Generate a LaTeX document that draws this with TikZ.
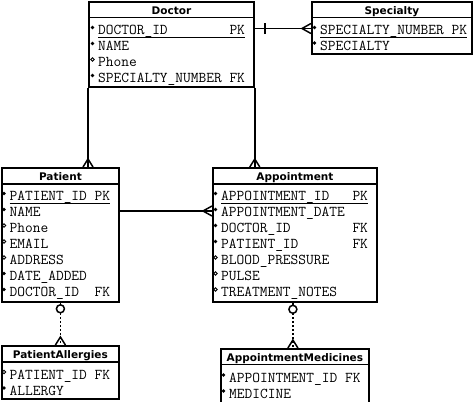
\documentclass[tikz,border=0pt]{standalone}
\usepackage{fontspec}
\newfontfamily\titlefont{DejaVu Sans}
\tikzset{
  entity/.style={draw, line width=1.8pt, rectangle, inner sep=0pt, anchor=north west},
  etitle/.style={anchor=base, inner sep=0pt, font=\titlefont\bfseries\fontsize{10.5}{12}\selectfont},
  attr/.style={anchor=base west, inner sep=0pt, font=\ttfamily\fontsize{15}{15}\selectfont},
  conn/.style={line width=1.8pt},
  dotconn/.style={line width=1.8pt, dash pattern=on 1.8pt off 2.2pt},
  foot/.style={line width=1.5pt},
  uline/.style={line width=0.9pt},
}
\newcommand\erow[5]{%
  \node[attr] (#1) at (#2,#3) {#5};
  \ifx m#4\fill (#2-5.5,#3-7) circle (1.8);\else\draw[line width=0.8pt] (#2-5.5,#3-7) circle (1.8);\fi}
\newcommand\underrow[1]{\draw[uline] ([yshift=-2.5pt]#1.base west) -- ([yshift=-2.5pt]#1.base east);}
\newcommand\sepline[2]{\draw[line width=1.8pt] ([yshift=-#2pt]#1.north west) -- ([yshift=-#2pt]#1.north east);}
\begin{document}
\begin{tikzpicture}[x=1pt,y=-1pt]
\useasboundingbox (0,0) rectangle (475,402);
% Doctor
\node[entity, minimum width=165pt, minimum height=85pt] (doctor) at (88,1) {};
\sepline{doctor}{16.5}
\node[etitle] (doctorT) at ([yshift=-13pt]doctor.north) {Doctor};
\erow{d1}{98}{34.5}{m}{DOCTOR\_ID~~~~~~~~PK}
\underrow{d1}
\erow{d2}{98}{50.5}{m}{NAME}
\erow{d3}{98}{66.5}{o}{Phone}
\erow{d4}{98}{82.5}{m}{SPECIALTY\_NUMBER FK}
% Specialty
\node[entity, minimum width=160pt, minimum height=52pt] (specialty) at (311,1) {};
\sepline{specialty}{16.5}
\node[etitle] (specialtyT) at ([yshift=-13pt]specialty.north) {Specialty};
\erow{s1}{320}{34.5}{m}{SPECIALTY\_NUMBER PK}
\underrow{s1}
\erow{s2}{320}{50}{m}{SPECIALTY}
% Patient
\node[entity, minimum width=117pt, minimum height=134pt] (patient) at (1,167) {};
\sepline{patient}{17}
\node[etitle] (patientT) at ([yshift=-13.5pt]patient.north) {Patient};
\erow{p1}{9.5}{200.5}{m}{PATIENT\_ID PK}
\underrow{p1}
\erow{p2}{9.5}{216.5}{m}{NAME}
\erow{p3}{9.5}{232.5}{o}{Phone}
\erow{p4}{9.5}{248.5}{o}{EMAIL}
\erow{p5}{9.5}{264.5}{o}{ADDRESS}
\erow{p6}{9.5}{280.5}{m}{DATE\_ADDED}
\erow{p7}{9.5}{296.5}{m}{DOCTOR\_ID~~FK}
% Appointment
\node[entity, minimum width=164pt, minimum height=134pt] (appt) at (212,167) {};
\sepline{appt}{17}
\node[etitle] (apptT) at ([yshift=-13.5pt]appt.north) {Appointment};
\erow{a1}{221}{200.5}{m}{APPOINTMENT\_ID~~~PK}
\underrow{a1}
\erow{a2}{221}{216.5}{m}{APPOINTMENT\_DATE}
\erow{a3}{221}{232.5}{m}{DOCTOR\_ID~~~~~~~~FK}
\erow{a4}{221}{248.5}{m}{PATIENT\_ID~~~~~~~FK}
\erow{a5}{221}{264.5}{o}{BLOOD\_PRESSURE}
\erow{a6}{221}{280.5}{o}{PULSE}
\erow{a7}{221}{296.5}{o}{TREATMENT\_NOTES}
% PatientAllergies
\node[entity, minimum width=117pt, minimum height=53pt] (allerg) at (1,345) {};
\sepline{allerg}{17}
\node[etitle] (allergT) at ([yshift=-13.5pt]allerg.north) {PatientAllergies};
\erow{pa1}{9.5}{379}{o}{PATIENT\_ID FK}
\erow{pa2}{9.5}{395}{m}{ALLERGY}
% AppointmentMedicines
\node[entity, minimum width=148pt, minimum height=70pt] (meds) at (220,348) {};
\sepline{meds}{16.5}
\node[etitle] (medsT) at ([yshift=-13.5pt]meds.north) {AppointmentMedicines};
\erow{m1}{229}{382}{m}{APPOINTMENT\_ID FK}
\erow{m2}{229}{398}{m}{MEDICINE}
% Doctor -> Patient
\coordinate (dpTop) at (doctor.south west |- patient.north);
\draw[conn] (doctor.south west) -- (dpTop);
\draw[foot] ([xshift=-5pt]dpTop) -- ([yshift=8pt]dpTop) -- ([xshift=5pt]dpTop);
% Doctor -> Appointment
\coordinate (daTop) at (doctor.south east |- appt.north);
\draw[conn] (doctor.south east) -- (daTop);
\draw[foot] ([xshift=-5pt]daTop) -- ([yshift=8pt]daTop) -- ([xshift=5pt]daTop);
% Doctor -> Specialty
\coordinate (dsA) at ([yshift=6pt]doctor.east |- s1.base);
\coordinate (dsB) at (dsA -| specialty.west);
\draw[conn] (dsA) -- (dsB);
\draw[foot] ([xshift=10pt,yshift=-5.5pt]dsA) -- ([xshift=10pt,yshift=5.5pt]dsA);
\draw[foot] ([yshift=-5pt]dsB) -- ([xshift=-9pt]dsB) -- ([yshift=5pt]dsB);
% Patient -> Appointment
\coordinate (paA) at ([yshift=5.5pt]patient.east |- p2.base);
\coordinate (paB) at (paA -| appt.west);
\draw[conn] (paA) -- (paB);
\draw[foot] ([yshift=-5pt]paB) -- ([xshift=-9pt]paB) -- ([yshift=5pt]paB);
% Patient -> PatientAllergies
\coordinate (pa0) at (patient.south -| allerg.north);
\coordinate (pa1) at (allerg.north);
\draw[line width=1.5pt] ([yshift=-6pt]pa0) circle (4);
\draw[conn] (pa0) -- ([yshift=-2pt]pa0);
\draw[dotconn] ([yshift=-10pt]pa0) -- (pa1);
\draw[foot] ([xshift=-5pt]pa1) -- ([yshift=8pt]pa1) -- ([xshift=5pt]pa1);
% Appointment -> AppointmentMedicines
\coordinate (am1) at ([xshift=-2pt]meds.north);
\coordinate (am0) at (appt.south -| am1);
\draw[line width=1.5pt] ([yshift=-6.5pt]am0) circle (4);
\draw[conn] (am0) -- ([yshift=-2.5pt]am0);
\draw[dotconn] ([yshift=-10.5pt]am0) -- (am1);
\draw[foot] ([xshift=-5pt]am1) -- ([yshift=8pt]am1) -- ([xshift=5pt]am1);
\end{tikzpicture}
\end{document}
